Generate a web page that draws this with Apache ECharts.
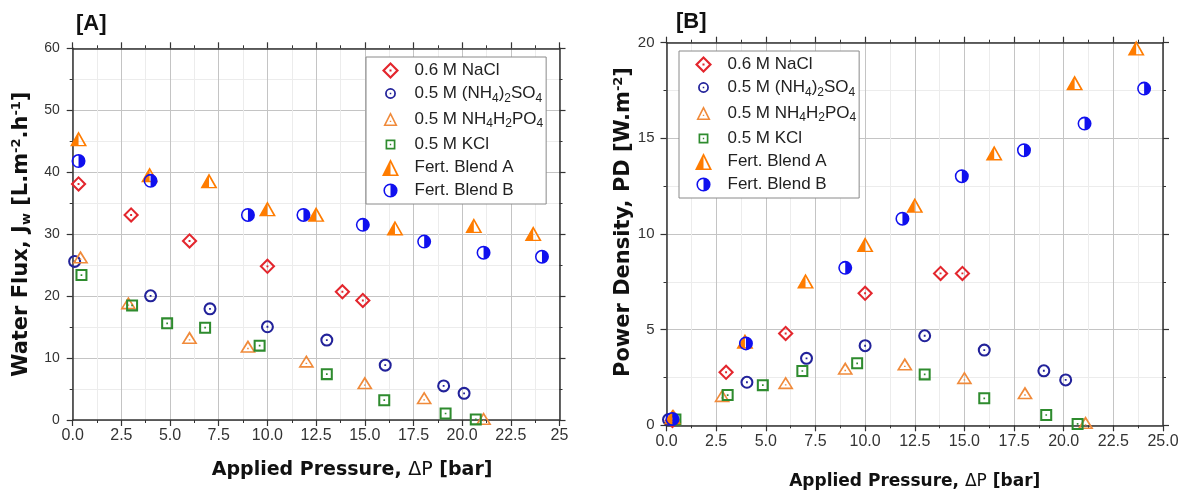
<!DOCTYPE html>
<html><head><meta charset="utf-8">
<script src="https://cdn.jsdelivr.net/npm/echarts@6/dist/echarts.min.js"></script>
<style>html,body{margin:0;padding:0;background:#fff}#c{width:1181px;height:490px}</style>
</head><body><div id="c"></div>
<script>
// ---------- data ----------
const seriesNames = ['0.6 M NaCl', '0.5 M (NH4)2SO4', '0.5 M NH4H2PO4', '0.5 M KCl', 'Fert. Blend A', 'Fert. Blend B'];
const legendLabels = ['0.6 M NaCl', '0.5 M (NH{s|4}){s|2}SO{s|4}', '0.5 M NH{s|4}H{s|2}PO{s|4}', '0.5 M KCl', 'Fert. Blend A', 'Fert. Blend B'];
const xTicksA = [0, 2.5, 5, 7.5, 10, 12.5, 15, 17.5, 20, 22.5, 25];
const yTicksA = [0, 10, 20, 30, 40, 50, 60];
const xTicksB = [0, 2.5, 5, 7.5, 10, 12.5, 15, 17.5, 20, 22.5, 25];
const yTicksB = [0, 5, 10, 15, 20];

// Panel A: water flux [L m-2 h-1] vs applied pressure [bar]
const fluxNaCl   = [[0.3,38.1],[3.0,33.1],[6.0,28.9],[10.0,24.8],[13.85,20.7],[14.9,19.3]];
const fluxNH4SO4 = [[0.1,25.6],[4.0,20.05],[7.05,17.95],[10.0,15.05],[13.05,12.9],[16.05,8.85],[19.05,5.5],[20.1,4.3]];
const fluxNH4PO4 = [[0.4,26.3],[2.86,18.9],[6.0,13.3],[9.0,11.9],[12.0,9.5],[15.0,6.0],[18.05,3.6],[21.1,0.25]];
const fluxKCl    = [[0.45,23.4],[3.05,18.5],[4.85,15.6],[6.8,14.9],[9.6,12.0],[13.05,7.4],[16.0,3.2],[19.15,1.05],[20.7,0.1]];
const fluxBlendA = [[0.3,45.4],[3.95,39.6],[7.0,38.6],[10.0,34.1],[12.5,33.2],[16.55,31.0],[20.6,31.4],[23.65,30.1]];
const fluxBlendB = [[0.3,41.8],[4.0,38.6],[9.0,33.1],[11.85,33.1],[14.9,31.5],[18.05,28.8],[21.1,27.0],[24.1,26.35]];

// Panel B: power density [W m-2] vs applied pressure [bar]
const pdNaCl   = [[0.3,0.25],[3.0,2.77],[6.0,4.8],[10.0,6.9],[13.8,7.94],[14.9,7.94]];
const pdNH4SO4 = [[0.1,0.3],[4.05,2.25],[7.05,3.5],[10.0,4.16],[13.0,4.68],[16.0,3.93],[19.0,2.85],[20.1,2.37]];
const pdNH4PO4 = [[0.35,0.5],[2.8,1.55],[6.0,2.23],[9.0,2.98],[12.0,3.2],[15.0,2.49],[18.05,1.7],[21.1,0.14]];
const pdKCl    = [[0.45,0.3],[3.08,1.58],[4.85,2.1],[6.84,2.84],[9.6,3.24],[13.0,2.66],[16.0,1.41],[19.12,0.54],[20.7,0.07]];
const pdBlendA = [[0.3,0.45],[3.95,4.4],[7.0,7.54],[10.0,9.45],[12.5,11.5],[16.5,14.24],[20.55,17.9],[23.65,19.72]];
const pdBlendB = [[0.3,0.33],[4.0,4.28],[9.0,8.23],[11.88,10.8],[14.87,13.02],[18.0,14.38],[21.05,15.77],[24.05,17.6]];

// ---------- styles ----------
const colors = ['#e3262d', '#22229a', '#f08a3a', '#2e8b2e', '#ff7c00', '#1010ee'];
const shapes = [
  'M50 0L100 50L50 100L0 50Z M50 18L18 50L50 82L82 50Z M44 44L56 44L56 56L44 56Z',
  'M50 0A50 50 0 1 1 50 100A50 50 0 1 1 50 0Z M50 16A34 34 0 1 0 50 84A34 34 0 1 0 50 16Z M43 43L57 43L57 57L43 57Z',
  'M50 0L100 100L0 100Z M50 26L18 88L82 88Z M45 62L55 62L55 72L45 72Z',
  'M0 0L100 0L100 100L0 100Z M17 17L17 83L83 83L83 17Z M43 43L57 43L57 57L43 57Z',
  'M50 0L100 100L0 100Z M50 22L16 91L84 91Z M50 0L50 100L0 100Z',
  'M50 0A50 50 0 1 1 50 100A50 50 0 1 1 50 0Z M50 11A39 39 0 1 0 50 89A39 39 0 1 0 50 11Z M50 0A50 50 0 0 1 50 100Z'
];
const symbols = shapes.map(s => 'path://' + s);
// legend icons: empty padding points enlarge the box so small marks stay small
const iconPad = [0, 28, 10, 36, 0, 10];
const legendIcons = shapes.map((s, i) => {
  const p = iconPad[i];
  return p ? 'path://' + s + ` M${-p} ${-p}L${-p} ${-p}Z M${100 + p} ${100 + p}L${100 + p} ${100 + p}Z` : 'path://' + s;
});
const sizes = [[16,16],[13,13],[16,13],[12,12],[17,15],[14,14]];
const FONT = 'Liberation Sans';
const TFONT = 'DejaVu Sans';
const axisColor = '#333';

function axisPair(gridIndex, min, max, interval, isX, fmt, labelSize, margin) {
  const main = {
    type: 'value', gridIndex, min, max, interval,
    position: isX ? 'bottom' : 'left',
    axisLine: {show: true, onZero: false, lineStyle: {color: axisColor, width: 1.5}},
    axisTick: {show: true, length: 6, lineStyle: {color: axisColor, width: 1.2}},
    minorTick: {show: true, splitNumber: 2, length: 3, lineStyle: {color: axisColor, width: 1}},
    axisLabel: {show: true, fontFamily: FONT, fontSize: labelSize, color: '#333', margin, formatter: fmt},
    splitLine: {show: true, lineStyle: {color: '#c4c4c4', width: 1}},
    minorSplitLine: {show: true, lineStyle: {color: '#ececec', width: 1}}
  };
  const mirror = {
    type: 'value', gridIndex, min, max, interval,
    position: isX ? 'top' : 'right',
    axisLine: {show: true, onZero: false, lineStyle: {color: axisColor, width: 1.5}},
    axisTick: {show: true, length: 6, lineStyle: {color: axisColor, width: 1.2}},
    minorTick: {show: true, splitNumber: 2, length: 3, lineStyle: {color: axisColor, width: 1}},
    axisLabel: {show: false},
    splitLine: {show: false}
  };
  return [main, mirror];
}

const subStyle = (size) => ({fontFamily: TFONT, fontSize: size, fontWeight: 'bold', color: '#111', padding: [Math.round(size*0.75),0,0,0]});
const supStyle = (size) => ({fontFamily: TFONT, fontSize: size, fontWeight: 'bold', color: '#111', padding: [0,0,Math.round(size*0.75),0]});

const [xA, xA2] = axisPair(0, 0, 25, 2.5, true, v => v === 25 ? '25' : v.toFixed(1), 16, 8);
const [yA, yA2] = axisPair(0, 0, 60, 10, false, v => String(v), 14, 13);
const [xB, xB2] = axisPair(1, 0, 25, 2.5, true, v => v.toFixed(1), 16, 8);
const [yB, yB2] = axisPair(1, 0, 20, 5, false, v => String(v), 15, 12);

xA.name = 'Applied Pressure, {n|ΔP} [bar]';
xA.nameLocation = 'middle'; xA.nameGap = 41;
xA.nameTextStyle = {fontFamily: TFONT, fontSize: 19, fontWeight: 'bold', color: '#111', padding: [0,0,0,72],
  rich: {n: {fontFamily: TFONT, fontSize: 19, fontWeight: 'normal', color: '#111'}}};
xB.name = 'Applied Pressure, {n|ΔP} [bar]';
xB.nameLocation = 'middle'; xB.nameGap = 48;
xB.nameTextStyle = {fontFamily: TFONT, fontSize: 17, fontWeight: 'bold', color: '#111',
  rich: {n: {fontFamily: TFONT, fontSize: 17, fontWeight: 'normal', color: '#111'}}};
yA.name = 'Water Flux, J{s|w} [L.m{p|-2}.h{p|-1}]';
yA.nameLocation = 'middle'; yA.nameRotate = 90; yA.nameGap = 40;
yA.nameTextStyle = {fontFamily: TFONT, fontSize: 21, fontWeight: 'bold', color: '#111',
  rich: {s: subStyle(13), p: supStyle(13)}};
yB.name = 'Power Density, PD [W.m{p|-2}]';
yB.nameLocation = 'middle'; yB.nameRotate = 90; yB.nameGap = 30;
yB.nameTextStyle = {fontFamily: TFONT, fontSize: 21, fontWeight: 'bold', color: '#111', padding: [0,0,0,24],
  rich: {p: supStyle(13)}};

const dataA = [fluxNaCl, fluxNH4SO4, fluxNH4PO4, fluxKCl, fluxBlendA, fluxBlendB];
const dataB = [pdNaCl, pdNH4SO4, pdNH4PO4, pdKCl, pdBlendA, pdBlendB];

function makeSeries(datasets, xi, yi) {
  return datasets.map((d, i) => ({
    type: 'scatter', name: seriesNames[i], xAxisIndex: xi, yAxisIndex: yi,
    data: d, symbol: symbols[i], symbolSize: sizes[i], clip: false,
    itemStyle: {color: colors[i], borderWidth: 0, opacity: 1},
    emphasis: {disabled: true}, z: 2 + i
  }));
}

function makeLegend(left, top) {
  return {
    left, top, orient: 'vertical', itemWidth: 38, itemHeight: 17, itemGap: 6,
    padding: [5, 3, 5, 16], backgroundColor: '#fff', borderColor: '#8a8a8a', borderWidth: 1,
    selectedMode: false,
    itemStyle: {borderWidth: 0},
    data: seriesNames.map((n, i) => ({name: n, icon: legendIcons[i]})),
    formatter: n => legendLabels[seriesNames.indexOf(n)],
    textStyle: {fontFamily: FONT, fontSize: 17, color: '#222',
      rich: {s: {fontFamily: FONT, fontSize: 12, color: '#222', padding: [10,0,0,0]}}}
  };
}

const chart = echarts.init(document.getElementById('c'), null, {renderer: 'canvas'});
chart.setOption({
  animation: false,
  backgroundColor: '#fff',
  title: [
    {text: '[A]', left: 71, top: 8, textStyle: {fontFamily: FONT, fontSize: 22, fontWeight: 'bold', color: '#111'}},
    {text: '[B]', left: 671, top: 6, textStyle: {fontFamily: FONT, fontSize: 22, fontWeight: 'bold', color: '#111'}}
  ],
  grid: [
    {left: 72.7, top: 48.3, width: 486.8, height: 371.7, outerBoundsMode: 'none', containLabel: false},
    {left: 666.5, top: 42.7, width: 496.5, height: 382.6, outerBoundsMode: 'none', containLabel: false}
  ],
  xAxis: [xA, xA2, xB, xB2],
  yAxis: [yA, yA2, yB, yB2],
  legend: [makeLegend(366, 57), makeLegend(679, 51)],
  series: [...makeSeries(dataA, 0, 0), ...makeSeries(dataB, 2, 2)]
});
</script></body></html>
